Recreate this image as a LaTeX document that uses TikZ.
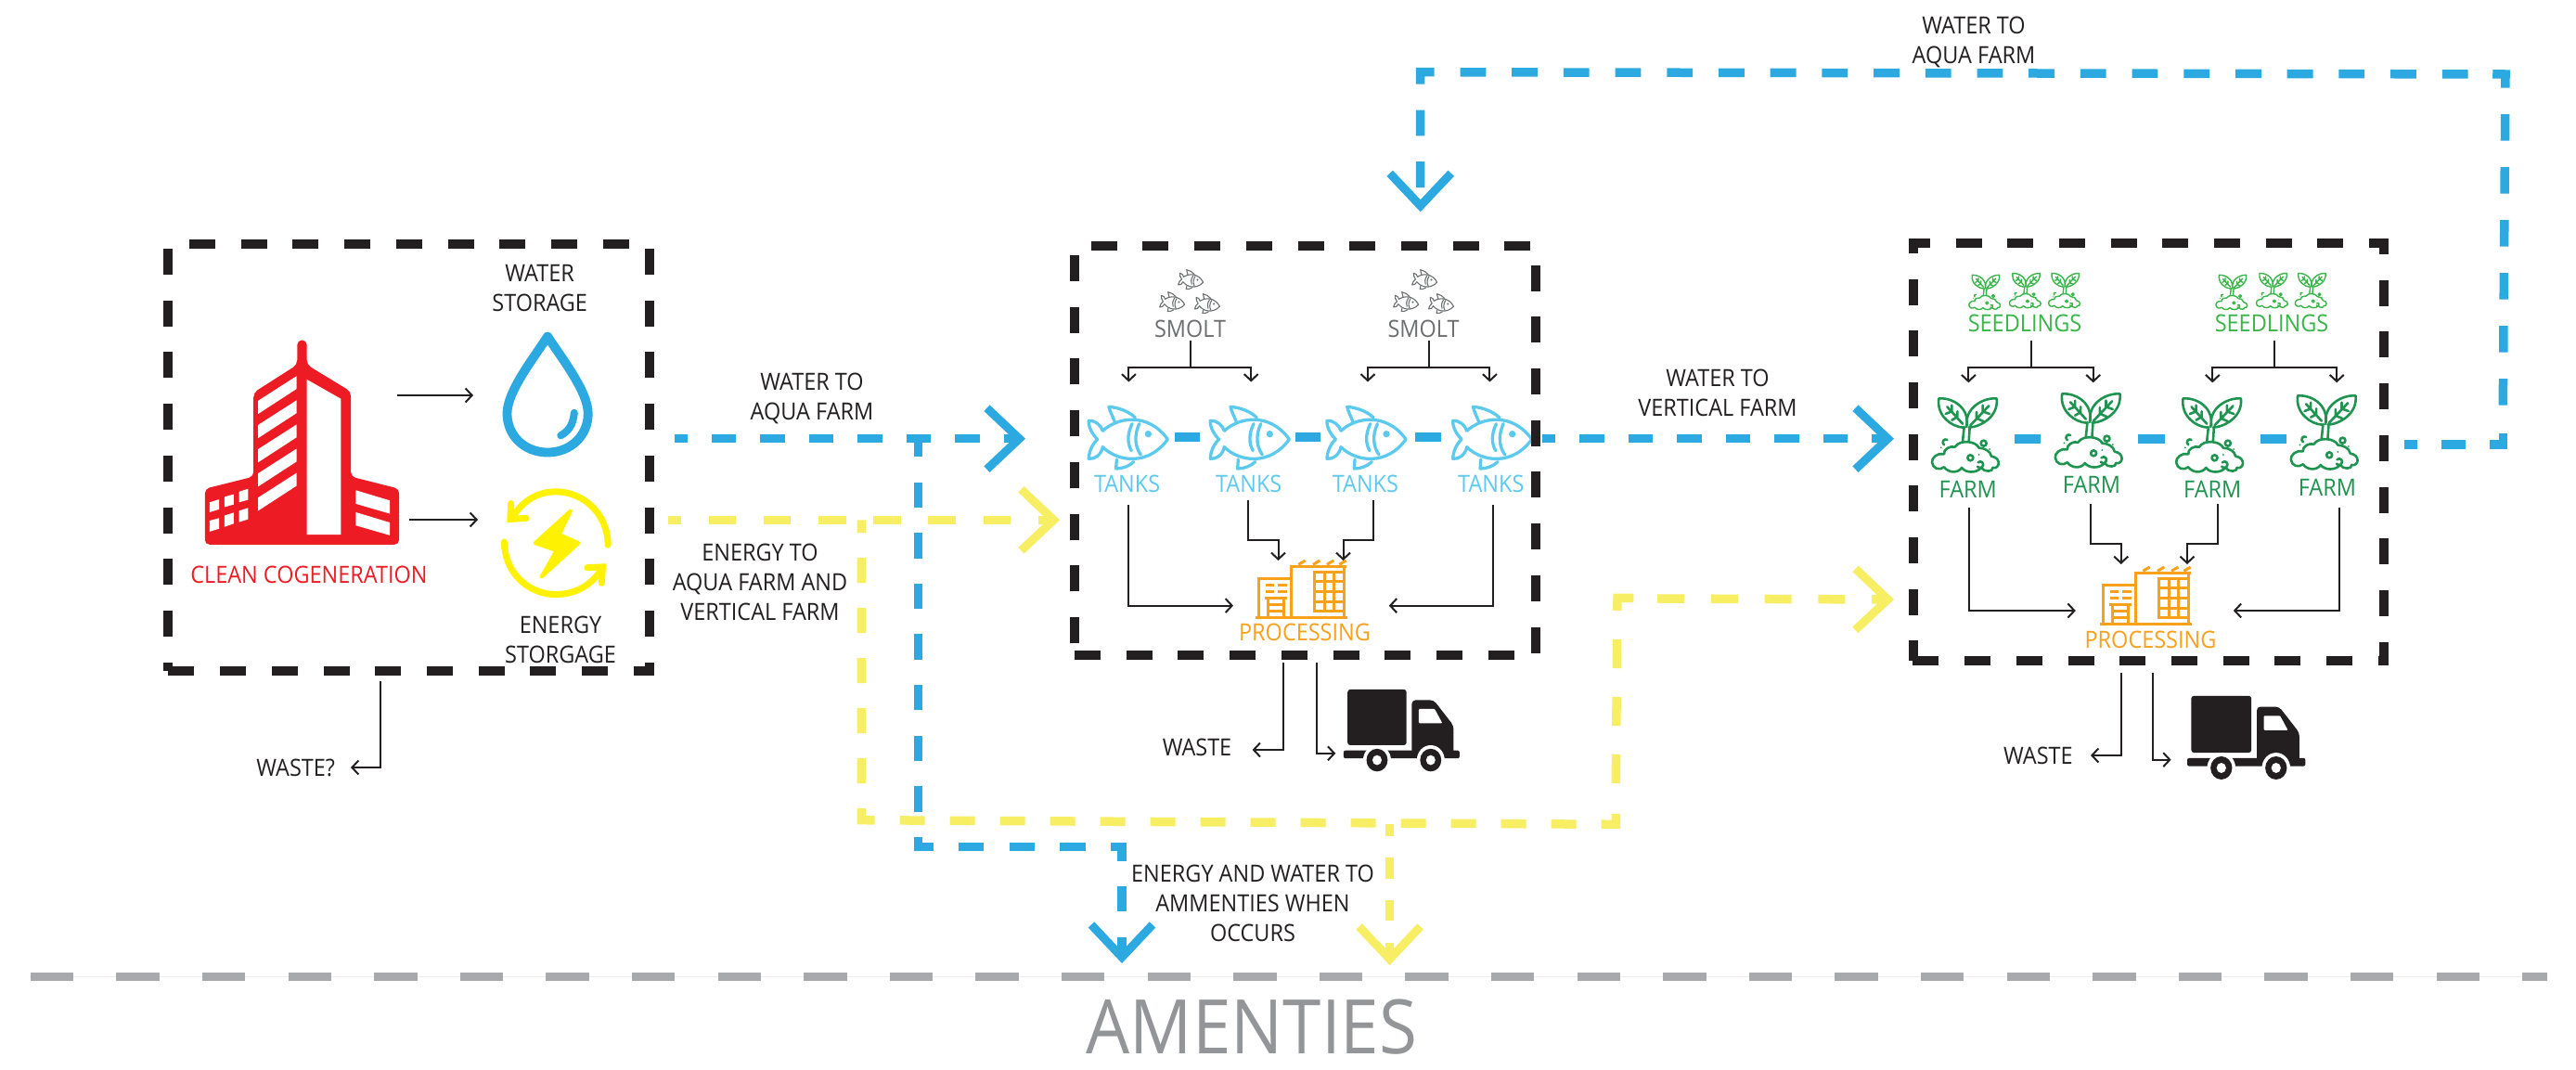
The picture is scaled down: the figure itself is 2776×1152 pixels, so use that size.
\documentclass[tikz,border=0pt]{standalone}
\usepackage{fontspec}
\setmainfont[FakeStretch=0.92]{Open Sans}
\usetikzlibrary{arrows.meta}
\definecolor{ink}{HTML}{231F20}
\definecolor{wblue}{HTML}{2CA9E1}
\definecolor{eyellow}{HTML}{F7EE63}
\definecolor{iyellow}{HTML}{FFF200}
\definecolor{cred}{HTML}{ED1C24}
\definecolor{fishblue}{HTML}{5CCAEE}
\definecolor{farmgreen}{HTML}{1E9450}
\definecolor{seedgreen}{HTML}{39B54A}
\definecolor{forange}{HTML}{F9A11B}
\definecolor{smoltgrey}{HTML}{6D6E71}
\definecolor{floorgrey}{HTML}{A7A9AC}
\definecolor{amengrey}{HTML}{939598}
\tikzset{
  bigtip/.tip={Straight Barb[length=35pt,width=66pt,line width=9pt]},
  thintip/.tip={Straight Barb[length=7pt,width=15pt,line width=2pt]},
  boxline/.style={draw=ink,line width=10pt,dash pattern=on 28pt off 27.7pt},
  water/.style={draw=wblue,line width=9.5pt},
  energy/.style={draw=eyellow,line width=9.5pt},
  flowline/.style={draw=ink,line width=2pt,-thintip},
  plainline/.style={draw=ink,line width=2pt},
  lbl/.style={inner sep=0pt,align=center,yshift=-2pt,text=ink,font=\fontsize{25.5}{32}\selectfont},
  pics/fishicon/.style 2 args={code={
    \begin{scope}[x=.3333pt,y=-.3333pt,draw=#1,line width=#2,line join=round,line cap=round]
      \draw (85,148) .. controls (130,105) and (230,85) .. (295,175)
            .. controls (235,260) and (135,250) .. (85,200)
            .. controls (80,225) and (60,240) .. (40,238)
            .. controls (40,215) and (52,190) .. (68,175)
            .. controls (52,160) and (38,135) .. (40,115)
            .. controls (60,113) and (80,130) .. (85,148);
      \draw (125,122) .. controls (117,100) and (108,85) .. (105,70) .. controls (135,72) and (170,85) .. (190,105);
      \draw (130,240) -- (128,270) .. controls (150,270) and (170,262) .. (185,248);
      \draw (180,125) .. controls (163,160) and (165,190) .. (178,212);
      \draw (203,125) .. controls (185,165) and (190,200) .. (208,225);
      \fill[#1] (232,158) circle (11);
    \end{scope}}},
  pics/planticon/.style 2 args={code={
    \begin{scope}[x=.3333pt,y=-.3333pt,draw=#1,line width=#2,line join=round,line cap=round]
      \draw (137,152) .. controls (100,150) and (50,115) .. (58,58) .. controls (110,55) and (160,95) .. (147,150);
      \draw (155,152) .. controls (195,150) and (252,115) .. (245,58) .. controls (195,55) and (140,95) .. (150,145);
      \draw (85,85) -- (135,140) (100,100) -- (100,80) (100,100) -- (80,108) (118,118) -- (118,100) (118,118) -- (100,128);
      \draw (220,82) -- (160,145) (200,100) -- (200,80) (200,100) -- (222,108) (180,122) -- (180,102) (180,122) -- (202,132);
      \draw (140,150) -- (135,197) (158,150) -- (155,197);
      \draw (75,238) .. controls (55,232) and (33,250) .. (36,265) .. controls (38,285) and (60,292) .. (75,280)
            .. controls (90,300) and (120,300) .. (132,282) .. controls (145,300) and (180,300) .. (195,282)
            .. controls (205,298) and (235,295) .. (232,282) .. controls (255,288) and (262,250) .. (228,245)
            .. controls (225,228) and (205,218) .. (188,218) .. controls (178,195) and (125,190) .. (110,215)
            .. controls (95,210) and (72,222) .. (75,238) -- cycle;
      \draw (160,250) circle (9) (203,203) circle (9);
      \draw (185,265) .. controls (195,255) and (208,270) .. (198,280) .. controls (193,285) and (185,282) .. (183,278);
      \draw (85,192) .. controls (75,185) and (65,200) .. (75,208);
      \fill[#1] (65,217) circle (3) (188,240) circle (3) (222,222) circle (3) (80,122) circle (3);
    \end{scope}}},
  pics/factoryicon/.style={code={
    \begin{scope}[x=.3333pt,y=-.3333pt,draw=forange,line width=3pt,line cap=butt,line join=miter]
      \draw (40,226) -- (337,226);
      \draw (45,100) -- (155,100) (50,100) -- (50,226);
      \draw (150,60) -- (332,60) (155,60) -- (155,226) (325,60) -- (325,226);
      \draw (178,55) -- (200,42) (225,55) -- (247,42) (270,55) -- (292,42) (310,55) -- (332,42);
      \draw (230,80) rectangle (325,205);
      \draw (262,80) -- (262,205) (293,80) -- (293,205);
      \draw (230,110) -- (325,110) (230,143) -- (325,143) (230,175) -- (325,175);
      \draw (72,122) -- (100,122) (112,122) -- (140,122) (72,143) -- (100,143) (112,143) -- (140,143);
      \draw (70,162) -- (140,162) (80,162) -- (80,226) (130,162) -- (130,226);
      \draw (80,185) -- (130,185) (80,205) -- (130,205);
    \end{scope}}},
  pics/truckicon/.style={code={
    \begin{scope}[x=.357pt,y=-.3827pt]
      \fill[ink,rounded corners=3pt] (12,0) rectangle (190,157);
      \fill[ink,rounded corners=4pt] (206,182) -- (206,30) -- (272,30) -- (332,102) -- (332,182) -- cycle;
      \fill[white,rounded corners=1pt] (227,55) -- (275,55) -- (298,95) -- (227,95) -- cycle;
      \fill[ink,rounded corners=2pt] (0,172) rectangle (350,194);
      \foreach \wx in {101,263} {
        \fill[white] (\wx,199) ellipse [x radius=42,y radius=42];
        \fill[ink] (\wx,199) ellipse [x radius=32,y radius=32];
        \fill[white] (\wx,199) ellipse [x radius=14,y radius=14];
      }
    \end{scope}}}
}
\begin{document}
\begin{tikzpicture}[x=1pt,y=-1pt]
\useasboundingbox (0,0) rectangle (2776,1152);
\fill[white] (0,0) rectangle (2776,1152);

% ---------- floor line and label
\draw[draw=black!7,line width=1.5pt] (32,1052.3) -- (2745,1052.3);
\draw[draw=floorgrey,line width=9.5pt,dash pattern=on 46.3pt off 46.3pt] (32.8,1052.3) -- (2745,1052.3);
\node[inner sep=0pt,text=amengrey,font=\fontsize{81}{90}\selectfont] (amenities) at (1349,1107) {AMENTIES};

% ---------- cogeneration building
\begin{scope}[shift={(150,240)},x=.3827pt,y=-.3954pt]
  \fill[cred,rounded corners=5pt] (445,320) -- (472,320) -- (472,387) -- (596,460) -- (596,692) -- (732,725) -- (732,877) -- (185,877) -- (185,725) -- (322,692) -- (322,463) -- (445,387) -- cycle;
  \fill[white] (472,427) -- (568,480) -- (568,850) -- (472,850) -- cycle;
  \foreach \dy in {0,66,132,198,264}
    \fill[white] (335,485+\dy) -- (443,418+\dy) -- (443,453+\dy) -- (335,521+\dy) -- cycle;
  \fill[white] (610,729) -- (706,757) -- (706,793) -- (610,766) -- cycle;
  \fill[white] (610,789) -- (706,817) -- (706,852) -- (610,825) -- cycle;
  \fill[white] (198,762) -- (225,754) -- (225,781) -- (198,789) -- cycle;
  \fill[white] (240,747) -- (266,740) -- (266,768) -- (240,775) -- cycle;
  \fill[white] (281,733) -- (307,725) -- (307,755) -- (281,762) -- cycle;
  \fill[white] (198,812) -- (225,805) -- (225,834) -- (198,842) -- cycle;
  \fill[white] (240,798) -- (266,790) -- (266,820) -- (240,829) -- cycle;
  \fill[white] (281,785) -- (307,777) -- (307,808) -- (281,816) -- cycle;
  % water drop
  \draw[wblue,line width=9.8pt,line join=round] (1150,310) .. controls (1190,370) and (1264,460) .. (1264,520)
     .. controls (1264,580) and (1215,626) .. (1150,626) .. controls (1085,626) and (1036,580) .. (1036,520)
     .. controls (1036,460) and (1110,370) .. (1150,310) -- cycle;
  \draw[wblue,line width=8pt,line cap=round] (1225,518) .. controls (1222,550) and (1210,567) .. (1187,580);
  % energy storage
  \draw[iyellow,line width=7pt,line cap=round] (1320,878) .. controls (1320,797) and (1254,733) .. (1173,733) .. controls (1125,733) and (1085,755) .. (1056,795);
  \draw[iyellow,line width=7pt,line cap=round] (1028,870) .. controls (1028,950) and (1093,1013) .. (1173,1013) .. controls (1225,1013) and (1270,990) .. (1298,950);
  \draw[iyellow,line width=7pt,line cap=round,line join=miter] (1047,765) -- (1045,808) -- (1090,805);
  \draw[iyellow,line width=7pt,line cap=round,line join=miter] (1262,940) -- (1305,938) -- (1302,982);
  \fill[iyellow,draw=iyellow,line width=4pt,line join=round] (1215,785) -- (1115,873) -- (1175,893) -- (1133,965) -- (1237,873) -- (1183,850) -- cycle;
\end{scope}

% ---------- aqua farm icons
\pic at (1160,415) {fishicon={fishblue}{3.3pt}};
\pic at (1291,415) {fishicon={fishblue}{3.3pt}};
\pic at (1416.7,415) {fishicon={fishblue}{3.3pt}};
\pic at (1552.4,415) {fishicon={fishblue}{3.3pt}};
\pic[scale=.31,rotate=-8] at (1269,282) {fishicon={smoltgrey}{1.1pt}};
\pic[scale=.31,rotate=-8] at (1249,306) {fishicon={smoltgrey}{1.1pt}};
\pic[scale=.31,rotate=-8] at (1286.7,308) {fishicon={smoltgrey}{1.1pt}};
\pic[scale=.31,rotate=-8] at (1521,282) {fishicon={smoltgrey}{1.1pt}};
\pic[scale=.31,rotate=-8] at (1501,306) {fishicon={smoltgrey}{1.1pt}};
\pic[scale=.31,rotate=-8] at (1538.8,308) {fishicon={smoltgrey}{1.1pt}};
\pic at (1340,590) {factoryicon};
\pic at (1447.9,742.9) {truckicon};

% ---------- vertical farm icons
\pic at (2070,410) {planticon={farmgreen}{2.6pt}};
\pic at (2202.8,405) {planticon={farmgreen}{2.6pt}};
\pic at (2333.2,410) {planticon={farmgreen}{2.6pt}};
\pic at (2456.8,407) {planticon={farmgreen}{2.6pt}};
\pic[scale=.47] at (2116.2,287.3) {planticon={seedgreen}{1.4pt}};
\pic[scale=.47] at (2159.8,285.4) {planticon={seedgreen}{1.4pt}};
\pic[scale=.47] at (2202,285.4) {planticon={seedgreen}{1.4pt}};
\pic[scale=.47] at (2382.3,287.3) {planticon={seedgreen}{1.4pt}};
\pic[scale=.47] at (2425.9,285.4) {planticon={seedgreen}{1.4pt}};
\pic[scale=.47] at (2467.7,285.4) {planticon={seedgreen}{1.4pt}};
\pic at (2250,597) {factoryicon};
\pic[scale=1.02] at (2357,749.8) {truckicon};

% ---------- dashed enclosures
\draw[boxline] (204,263) -- (690,263);
\draw[boxline] (181,268) -- (181,723);
\draw[boxline] (700,268) -- (700,728);
\draw[boxline] (181.4,723) -- (704,723);

\draw[boxline] (1175.7,264.5) -- (1650,264.5);
\draw[boxline] (1158,275) -- (1158,695);
\draw[boxline] (1655,285.6) -- (1655,705);
\draw[boxline] (1158,706) -- (1635,706);

\draw[boxline,dash phase=5.2pt] (2057,262) -- (2573,262);
\draw[boxline,dash phase=13.2pt] (2062,258) -- (2062,712);
\draw[boxline,dash phase=11pt] (2568.6,257) -- (2568.6,717);
\draw[boxline] (2061.4,712) -- (2573,712);

% ---------- connector end points
\coordinate (w1s) at (726.7,472.7);
\coordinate (w1e) at (1105,472.7);
\coordinate (wbr) at (989.3,472.7);
\coordinate (wc1) at (989.3,912.7);
\coordinate (wc2) at (1209,912.7);
\coordinate (wam) at (1209,1038);
\coordinate (w2s) at (1662,472.7);
\coordinate (w2e) at (2041,472.7);
\coordinate (w3s) at (2591,479);
\coordinate (w3c) at (2697.3,479);
\coordinate (w3u) at (2697.3,436.7);
\coordinate (w3r) at (2700,80);
\coordinate (w3t) at (2659.6,79.9);
\coordinate (w3l) at (1530.7,77.7);
\coordinate (w3a) at (1530.7,228.3);
\coordinate (y1s) at (720,560.3);
\coordinate (y1e) at (1142,560.3);
\coordinate (ybr) at (928.3,560.3);
\coordinate (yc1) at (928.3,883.7);
\coordinate (yc2) at (1741.3,888.3);
\coordinate (yc3) at (1741.3,875);
\coordinate (y3s) at (1741.3,844);
\coordinate (y3c) at (1743,644.3);
\coordinate (y3e) at (1762,644.3);
\coordinate (y4s) at (1786,645);
\coordinate (y4e) at (2041,646);
\coordinate (yas) at (1497.6,888);
\coordinate (yam) at (1497.6,1040);

% ---------- water lines
\draw[water,dash pattern=on 26.3pt off 26.2pt,dash phase=12.3pt,-bigtip] (w1s) -- (w1e);
\draw[water,dash pattern=on 27.3pt off 27.3pt,dash phase=7.7pt,line join=miter,-bigtip] (wbr) -- (wc1) -- (wc2) -- (wam);
\draw[water,dash pattern=on 26.3pt off 26.2pt,dash phase=12.3pt,-bigtip] (w2s) -- (w2e);
\foreach \xa/\xb in {1265.7/1293,1396/1423,1525/1553} \draw[water] (\xa,471) -- (\xb,471);
\foreach \xa/\xb in {2171.4/2199,2304/2332.5,2436.4/2464} \draw[water] (\xa,473) -- (\xb,473);
\draw[water,dash pattern=on 26pt off 26pt,line join=miter,dash phase=12pt] (w3s) -- (w3c) -- (2697.3,465);
\draw[water,dash pattern=on 28.5pt off 28.5pt,line join=miter] (w3u) -- (w3r) -- (2686,79.9);
\draw[water,dash pattern=on 27.8pt off 27.9pt,line join=miter,-bigtip] (w3t) -- (w3l) -- (1530.7,91) -- (w3a);

% ---------- energy lines
\draw[energy,dash pattern=on 29.6pt off 29.6pt,dash phase=15.7pt,-bigtip] (y1s) -- (y1e);
\draw[energy,dash pattern=on 27pt off 27pt,dash phase=13.3pt,line join=miter] (ybr) -- (yc1) -- (yc2) -- (yc3);
\draw[energy,dash pattern=on 31pt off 31pt,line join=miter] (y3s) -- (y3c) -- (y3e);
\draw[energy,dash pattern=on 29pt off 28.8pt,-bigtip] (y4s) -- (y4e);
\draw[energy,dash pattern=on 22.5pt off 23.2pt,dash phase=9.5pt,-bigtip] (yas) -- (yam);

% ---------- labels
\node[lbl] (wstore) at (581.7,308) {WATER\\STORAGE};
\node[lbl,text=cred] (cogen) at (333,617) {CLEAN COGENERATION};
\node[lbl] (estore) at (604,687) {ENERGY\\STORGAGE};
\node[lbl] (wasteq) at (318.7,825) {WASTE?};
\node[lbl] (l1) at (875,427) {WATER TO\\AQUA FARM};
\node[lbl] (l2) at (819,625) {ENERGY TO\\AQUA FARM AND\\VERTICAL FARM};
\node[lbl] (l3) at (1851,421.5) {WATER TO\\VERTICAL FARM};
\node[lbl] (l4) at (2127,43.5) {WATER TO\\AQUA FARM};
\node[lbl] (l5) at (1350,971) {ENERGY AND WATER TO\\AMMENTIES WHEN\\OCCURS};
\node[lbl,text=smoltgrey] (smolt1) at (1282.5,352.6) {SMOLT};
\node[lbl,text=smoltgrey] (smolt2) at (1534,352.6) {SMOLT};
\node[lbl,text=fishblue] (tank1) at (1214.6,519.8) {TANKS};
\node[lbl,text=fishblue] (tank2) at (1345.7,519.8) {TANKS};
\node[lbl,text=fishblue] (tank3) at (1471.4,519.8) {TANKS};
\node[lbl,text=fishblue] (tank4) at (1606.8,519.8) {TANKS};
\node[lbl,text=forange] (proc1) at (1406,679.4) {PROCESSING};
\node[lbl] (waste1) at (1290,803.8) {WASTE};
\node[lbl,text=seedgreen] (seed1) at (2182,346.4) {SEEDLINGS};
\node[lbl,text=seedgreen] (seed2) at (2448,346.4) {SEEDLINGS};
\node[lbl,text=farmgreen] (farm1) at (2120.7,525.5) {FARM};
\node[lbl,text=farmgreen] (farm2) at (2254,520.6) {FARM};
\node[lbl,text=farmgreen] (farm3) at (2384.3,525.5) {FARM};
\node[lbl,text=farmgreen] (farm4) at (2507.9,523) {FARM};
\node[lbl,text=forange] (proc2) at (2317.5,687) {PROCESSING};
\node[lbl] (waste2) at (2196.4,812.6) {WASTE};

% ---------- thin arrows: cogeneration box
\coordinate (b1a) at (428,426);   \coordinate (b1b) at (510,426);
\coordinate (b2a) at (441,560);   \coordinate (b2b) at (515,560);
\coordinate (b3a) at (410,734);   \coordinate (b3b) at (378,827);
\draw[flowline] (b1a) -- (b1b);
\draw[flowline] (b2a) -- (b2b);
\draw[flowline] (b3a) |- (b3b);

% ---------- thin arrows: aqua farm
\coordinate (s1t) at (1282.5,366.7); \coordinate (s1j) at (1282.5,395.8);
\coordinate (s1l) at (1216.4,411.5); \coordinate (s1r) at (1348.2,411.5);
\coordinate (s2t) at (1540,366.7);   \coordinate (s2j) at (1540,395.8);
\coordinate (s2l) at (1474,411.5);   \coordinate (s2r) at (1605.4,411.5);
\draw[plainline] (s1t) -- (s1j);
\draw[flowline] (s1j) -| (s1l);
\draw[flowline] (s1j) -| (s1r);
\draw[plainline] (s2t) -- (s2j);
\draw[flowline] (s2j) -| (s2l);
\draw[flowline] (s2j) -| (s2r);
\coordinate (t1o) at (1216.4,544);   \coordinate (t1i) at (1329,652.6);
\coordinate (t2o) at (1344.6,539.3); \coordinate (t2m) at (1377.5,582); \coordinate (t2i) at (1377.5,604);
\coordinate (t3o) at (1480,539.3);   \coordinate (t3m) at (1447.5,582); \coordinate (t3i) at (1447.5,604);
\coordinate (t4o) at (1608.6,544);   \coordinate (t4i) at (1496.8,652.6);
\draw[flowline] (t1o) |- (t1i);
\draw[flowline] (t2o) |- (t2m) -- (t2i);
\draw[flowline] (t3o) |- (t3m) -- (t3i);
\draw[flowline] (t4o) |- (t4i);
\coordinate (p1w) at (1383.2,713.8); \coordinate (p1x) at (1349.6,808);
\coordinate (p1t) at (1419.3,713.8); \coordinate (p1y) at (1439.3,811.8);
\draw[flowline] (p1w) |- (p1x);
\draw[flowline] (p1t) |- (p1y);

% ---------- thin arrows: vertical farm
\coordinate (d1t) at (2188.6,366.7); \coordinate (d1j) at (2188.6,395.8);
\coordinate (d1l) at (2121.4,412.3); \coordinate (d1r) at (2255.7,412.3);
\coordinate (d2t) at (2451.4,366.7); \coordinate (d2j) at (2451.4,395.8);
\coordinate (d2l) at (2384.3,412.3); \coordinate (d2r) at (2518.2,412.3);
\draw[plainline] (d1t) -- (d1j);
\draw[flowline] (d1j) -| (d1l);
\draw[flowline] (d1j) -| (d1r);
\draw[plainline] (d2t) -- (d2j);
\draw[flowline] (d2j) -| (d2l);
\draw[flowline] (d2j) -| (d2r);
\coordinate (f1o) at (2121.7,546.6); \coordinate (f1i) at (2236.8,658);
\coordinate (f2o) at (2252.5,542.8); \coordinate (f2m) at (2285.7,586.4); \coordinate (f2i) at (2285.7,608);
\coordinate (f3o) at (2390.4,542.8); \coordinate (f3m) at (2357,586.4);   \coordinate (f3i) at (2357,608);
\coordinate (f4o) at (2521,546.6);   \coordinate (f4i) at (2406.8,658);
\draw[flowline] (f1o) |- (f1i);
\draw[flowline] (f2o) |- (f2m) -- (f2i);
\draw[flowline] (f3o) |- (f3m) -- (f3i);
\draw[flowline] (f4o) |- (f4i);
\coordinate (p2w) at (2285.7,724.5); \coordinate (p2x) at (2253,814);
\coordinate (p2t) at (2320.4,724.5); \coordinate (p2y) at (2339.6,818.7);
\draw[flowline] (p2w) |- (p2x);
\draw[flowline] (p2t) |- (p2y);
\end{tikzpicture}
\end{document}
